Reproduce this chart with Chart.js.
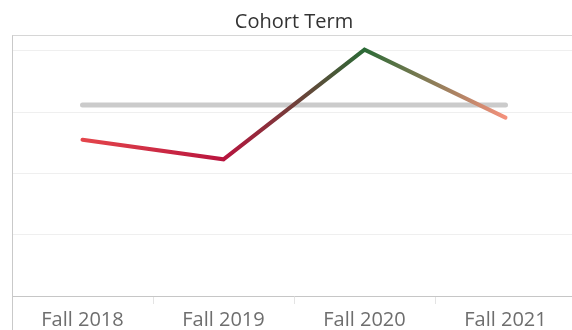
<!DOCTYPE html>
<html>
<head>
<meta charset="utf-8">
<script src="https://cdn.jsdelivr.net/npm/chart.js@4.4.1/dist/chart.umd.min.js"></script>
<style>
  html, body { margin: 0; padding: 0; background: #fff; overflow: hidden; }
  #wrap { position: relative; width: 576px; height: 336px; }
</style>
</head>
<body>
<div id="wrap"><canvas id="cohortChart"></canvas></div>
<script>
// Cohort term trend
const terms = ['Fall 2018', 'Fall 2019', 'Fall 2020', 'Fall 2021'];
const termValues = [51.0, 44.6, 80.4, 58.2];
const referenceValues = [62.3, 62.3, 62.3, 62.3];
const termColors = ['#e4454b', '#b8143e', '#2b6a36', '#f4917c'];

const yTicks = [0, 20, 40, 60, 80];
const yMax = 85;

const ctx = document.getElementById('cohortChart').getContext('2d');

// horizontal gradient running through each term's colour
function lineGradient(context) {
    const chart = context.chart;
    const xScale = chart.scales.x;
    if (!chart.chartArea || !xScale) {
        return termColors[0];
    }
    const x0 = xScale.getPixelForValue(0);
    const x1 = xScale.getPixelForValue(terms.length - 1);
    const g = chart.ctx.createLinearGradient(x0, 0, x1, 0);
    termColors.forEach((c, i) => {
        g.addColorStop(i / (termColors.length - 1), c);
    });
    return g;
}

// left frame line, which runs down through the label strip
const framePlugin = {
    id: 'frame',
    afterDraw(chart) {
        const { ctx, chartArea } = chart;
        ctx.save();
        ctx.strokeStyle = '#c9c9c9';
        ctx.lineWidth = 1;
        ctx.beginPath();
        ctx.moveTo(chartArea.left + 0.5, chartArea.top);
        ctx.lineTo(chartArea.left + 0.5, chart.height);
        ctx.stroke();
        ctx.restore();
    }
};

new Chart(ctx, {
    type: 'line',
    data: {
        labels: terms,
        datasets: [{
            data: termValues,
            borderColor: lineGradient,
            borderWidth: 4,
            borderCapStyle: 'round',
            borderJoinStyle: 'miter',
            pointRadius: 0,
            tension: 0
        }, {
            data: referenceValues,
            borderColor: '#cbcbcb',
            borderWidth: 5,
            borderCapStyle: 'round',
            pointRadius: 0,
            tension: 0
        }]
    },
    options: {
        responsive: true,
        maintainAspectRatio: false,
        animation: false,
        layout: { padding: { left: 12, right: 0, top: 0, bottom: 0 } },
        plugins: {
            legend: { display: false },
            tooltip: { enabled: false },
            title: {
                display: true,
                text: 'Cohort Term',
                color: '#333333',
                font: { family: 'Open Sans', size: 20, weight: 'normal' },
                padding: { top: 10, bottom: 1.5 }
            }
        },
        scales: {
            x: {
                offset: true,
                border: { display: true, color: '#c6c6c6' },
                grid: {
                    offset: true,
                    drawOnChartArea: false,
                    drawTicks: true,
                    tickLength: 8,
                    color: '#e4e4e4'
                },
                ticks: {
                    color: '#6e6e6e',
                    padding: 4,
                    font: { family: 'Open Sans', size: 20 }
                }
            },
            y: {
                min: 0,
                max: yMax,
                afterBuildTicks(scale) {
                    scale.ticks = yTicks.concat([yMax]).map(v => ({ value: v }));
                },
                border: { display: false },
                grid: {
                    drawTicks: false,
                    color: (c) => {
                        if (c.tick.value === 0) return 'rgba(0,0,0,0)';
                        if (c.tick.value === yMax) return '#d6d6d6';
                        return '#efefef';
                    }
                },
                ticks: { display: false }
            }
        }
    },
    plugins: [framePlugin]
});
</script>
</body>
</html>
